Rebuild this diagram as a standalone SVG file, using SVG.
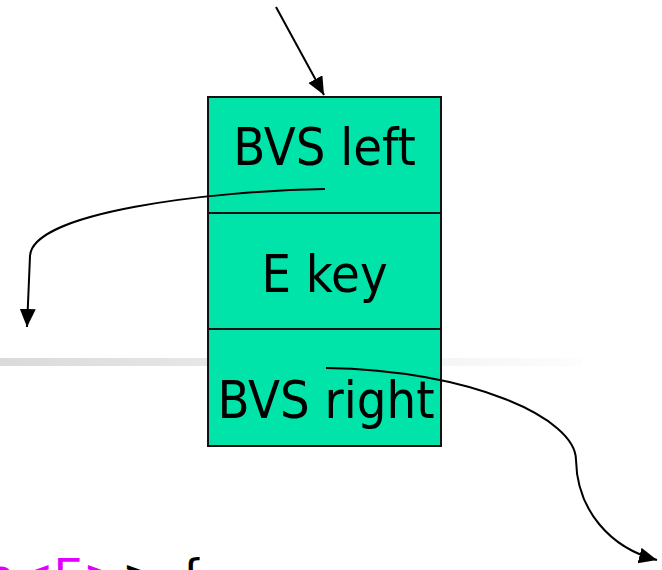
<svg xmlns="http://www.w3.org/2000/svg" width="662" height="570" viewBox="0 0 662 570">
<defs>
<linearGradient id="rule" x1="0" y1="0" x2="1" y2="0">
<stop offset="0" stop-color="#dadada"/>
<stop offset="1" stop-color="#fdfdfd"/>
</linearGradient>
<marker id="ah" markerUnits="userSpaceOnUse" markerWidth="20" markerHeight="18" refX="18" refY="8" orient="auto">
<path d="M0,0 L18,8 L0,16 Z" fill="#000"/>
</marker>
</defs>
<style>
.cell{fill:#00E4AA;stroke:#111;stroke-width:2}
.lbl{font-family:'DejaVu Sans Condensed','DejaVu Sans',sans-serif;font-stretch:condensed;font-size:52px;fill:#000;text-anchor:middle}
.edge{fill:none;stroke:#000;stroke-width:2;marker-end:url(#ah)}
.code{font-family:'DejaVu Sans',sans-serif;font-size:46.5px}
</style>
<rect x="0" y="358" width="582" height="8" fill="url(#rule)"/>
<g id="node">
<rect class="cell" x="208" y="97" width="233" height="116"/>
<rect class="cell" x="208" y="213" width="233" height="116"/>
<rect class="cell" x="208" y="329" width="233" height="117"/>
<text class="lbl" x="324.5" y="165">BVS left</text>
<text class="lbl" x="324.5" y="292">E key</text>
<text class="lbl" x="326" y="418">BVS right</text>
</g>
<g id="connectors">
<path class="edge" d="M276,7 L324,95"/>
<path class="edge" d="M325,189 C210,191 32,212 30,256 L27,327"/>
<path class="edge" d="M326,368 C470,370 576,418 576,460 C577,510 610,548 657,560"/>
</g>
<text class="code" x="-14" y="592"><tspan fill="#E100FF">e&lt;E&gt;</tspan><tspan fill="#000">&gt; {</tspan></text>
</svg>
